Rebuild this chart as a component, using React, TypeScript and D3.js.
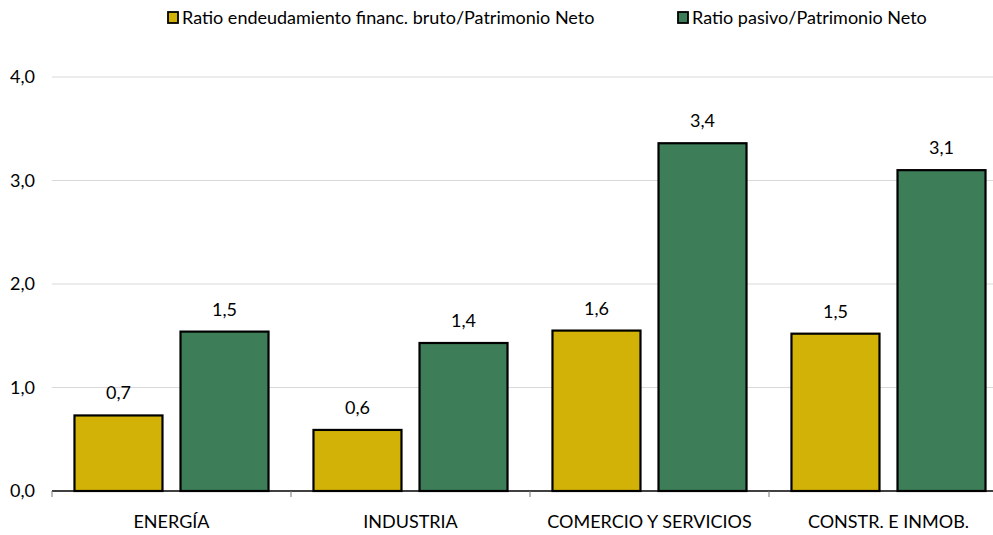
import React, { useEffect, useRef } from 'react';
import * as d3 from 'd3';

const W = 993, H = 535;
const MARGIN = { top: 77, right: 0, bottom: 44, left: 52 };
const BAND = 239;

const categories = ['ENERGÍA', 'INDUSTRIA', 'COMERCIO Y SERVICIOS', 'CONSTR. E INMOB.'];
const seriesNames = ['Ratio endeudamiento financ. bruto/Patrimonio Neto', 'Ratio pasivo/Patrimonio Neto'];
const endeudamiento = [0.73, 0.59, 1.55, 1.52];
const pasivo = [1.54, 1.43, 3.36, 3.10];
const yTicks = [0, 1, 2, 3, 4];
const colors = ['#D2B206', '#3D7D58'];
const FONT = 'Lato, "Open Sans", sans-serif';

const fmt = (v: number) => v.toFixed(1).replace('.', ',');

export default function App() {
  const ref = useRef<SVGSVGElement | null>(null);

  useEffect(() => {
    const svg = d3.select(ref.current);
    svg.selectAll('*').remove();

    const innerH = H - MARGIN.top - MARGIN.bottom;
    const x = d3.scaleBand<string>().domain(categories)
      .range([MARGIN.left, MARGIN.left + BAND * categories.length]).padding(0);
    const xs = d3.scaleBand<string>().domain(['0', '1'])
      .range([0, BAND]).paddingInner(0.17).paddingOuter(0.212);
    const y = d3.scaleLinear().domain([0, 4]).range([MARGIN.top + innerH, MARGIN.top]);

    // gridlines
    svg.append('g').selectAll('line').data(yTicks.filter(d => d > 0)).join('line')
      .attr('x1', MARGIN.left).attr('x2', W)
      .attr('y1', d => y(d)).attr('y2', d => y(d))
      .attr('stroke', '#d9d9d9').attr('stroke-width', 1);

    // y labels
    svg.append('g').selectAll('text').data(yTicks).join('text')
      .attr('x', 35).attr('y', d => y(d)).attr('dy', '0.35em')
      .attr('text-anchor', 'end')
      .attr('font-family', FONT).attr('font-size', 18).attr('fill', '#000')
      .text(d => fmt(d));

    // bars
    const rows = categories.map((c, i) => [
      { c, s: 0, v: endeudamiento[i] },
      { c, s: 1, v: pasivo[i] },
    ]).flat();

    svg.append('g').selectAll('rect').data(rows).join('rect')
      .attr('x', d => x(d.c)! + xs(String(d.s))!)
      .attr('width', xs.bandwidth())
      .attr('y', d => y(d.v))
      .attr('height', d => y(0) - y(d.v))
      .attr('fill', d => colors[d.s])
      .attr('stroke', '#000').attr('stroke-width', 2.2);

    svg.append('g').selectAll('text').data(rows).join('text')
      .attr('x', d => x(d.c)! + xs(String(d.s))! + xs.bandwidth() / 2)
      .attr('y', d => y(d.v) - 16)
      .attr('text-anchor', 'middle')
      .attr('font-family', FONT).attr('font-size', 18).attr('fill', '#000')
      .text(d => fmt(d.v));

    // x axis
    const ax = svg.append('g');
    ax.append('line').attr('x1', MARGIN.left).attr('x2', W)
      .attr('y1', y(0)).attr('y2', y(0)).attr('stroke', '#000').attr('stroke-width', 1.3);
    ax.selectAll('line.tick').data(categories).join('line').attr('class', 'tick')
      .attr('x1', d => x(d)!).attr('x2', d => x(d)!)
      .attr('y1', y(0)).attr('y2', y(0) + 6).attr('stroke', '#777');
    ax.selectAll('text').data(categories).join('text')
      .attr('x', d => x(d)! + x.bandwidth() / 2)
      .attr('y', y(0) + 31)
      .attr('dy', '0.35em').attr('text-anchor', 'middle')
      .attr('font-family', FONT).attr('font-size', 18).attr('fill', '#000')
      .text(d => d);

    // legend
    const leg = svg.append('g');
    const lx = [168, 678];
    seriesNames.forEach((name, i) => {
      leg.append('rect').attr('x', lx[i]).attr('y', 12).attr('width', 10).attr('height', 11)
        .attr('fill', colors[i]).attr('stroke', '#000').attr('stroke-width', 1.8);
      leg.append('text').attr('x', lx[i] + 14).attr('y', 18).attr('dy', '0.35em')
        .attr('font-family', FONT).attr('font-size', 18).attr('fill', '#000')
        .text(name);
    });
  }, []);

  return (
    <svg ref={ref} width={W} height={H}
      style={{ position: 'absolute', left: 0, top: 0, background: '#fff' }} />
  );
}
